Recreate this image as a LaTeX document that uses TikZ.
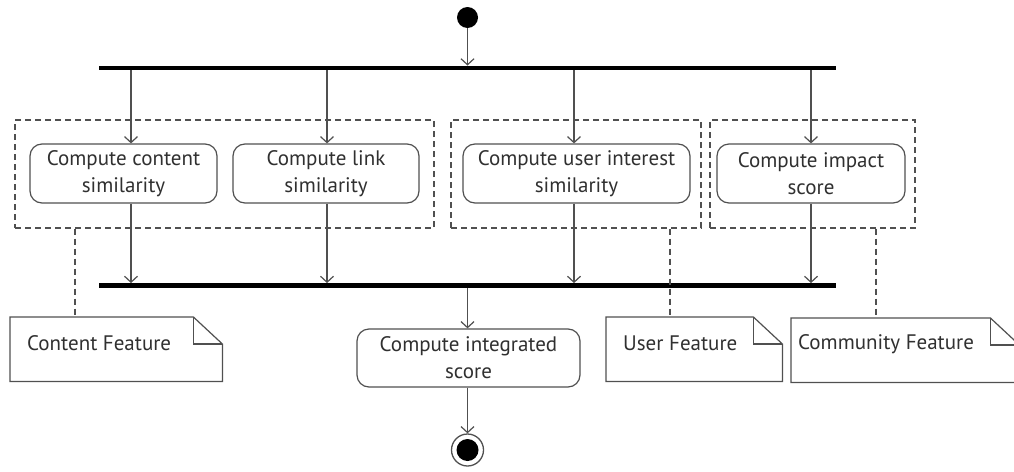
\documentclass[tikz,border=0pt]{standalone}
\usepackage{fontspec}
\setmainfont{PT Sans}
\usetikzlibrary{arrows.meta}
\definecolor{ln}{HTML}{505050}
\definecolor{tx}{HTML}{303030}
\tikzset{
  act/.style={draw=ln, line width=1.2pt, rounded corners=12pt, align=center, text=tx,
    font=\fontsize{21}{27}\selectfont, inner sep=0pt},
  bar/.style={fill=black, draw=none, inner sep=0pt, minimum height=4.5pt},
  grp/.style={draw=ln, line width=1.1pt, dash pattern=on 6pt off 4pt, inner sep=0pt},
  flow/.style={draw=ln, line width=1.2pt, -{Straight Barb[length=6pt,width=13pt,line width=1.2pt]}},
  anch/.style={draw=ln, line width=1.1pt, dash pattern=on 6pt off 4pt},
  notebox/.style={draw=none, inner sep=0pt},
  notetext/.style={text=tx, font=\fontsize{21}{25}\selectfont, inner sep=0pt, anchor=west},
  noteline/.style={draw=ln, line width=1.2pt},
}
\newcommand{\dogear}[1]{%
  \draw[noteline] (#1.north west) -- ([xshift=-29pt]#1.north east) -- ([yshift=-27pt]#1.north east) -- (#1.south east) -- (#1.south west) -- cycle;
  \draw[noteline] ([xshift=-29pt]#1.north east) -- ([xshift=-29pt,yshift=-27pt]#1.north east) -- ([yshift=-27pt]#1.north east);
}
\begin{document}
\begin{tikzpicture}[x=1pt,y=-1pt]
\clip (0,0) rectangle (1014,471);
\fill[white] (0,0) rectangle (1014,471);
% start / end
\node[circle, fill=black, minimum size=21pt, inner sep=0pt] (start) at (467.5,17.5) {};
\node[bar, minimum width=737pt] (fork) at (467.5,68) {};
\node[bar, minimum width=737pt] (join) at (467.5,285.5) {};
% groups
\node[grp, minimum width=419pt, minimum height=108pt] (g1) at (224.5,174) {};
\node[grp, minimum width=250pt, minimum height=108pt] (g2) at (576,174) {};
\node[grp, minimum width=205pt, minimum height=108pt] (g3) at (812.5,174) {};
% activities
\node[act, minimum width=187pt, minimum height=59pt] (b1) at (123.5,173.5) {Compute content\\similarity};
\node[act, minimum width=186pt, minimum height=59pt] (b2) at (326,173.5) {Compute link\\similarity};
\node[act, minimum width=227pt, minimum height=59pt] (b3) at (576.5,173.5) {Compute user interest\\similarity};
\node[act, minimum width=188pt, minimum height=59pt] (b4) at (811,173.5) {Compute impact\\score};
\node[act, minimum width=223pt, minimum height=58pt] (b5) at (468.5,358) {Compute integrated\\score};
% end
\node[circle, draw=ln, line width=1.3pt, minimum size=32pt, inner sep=0pt] (end) at (467.5,450) {};
\node[circle, fill=black, minimum size=22pt, inner sep=0pt] (endc) at (end.center) {};
% flow x positions
\coordinate (x1) at (131,0);
\coordinate (x2) at (327,0);
\coordinate (x3) at (574,0);
\coordinate (x4) at (811,0);
\coordinate (x5) at (467.5,0);
\draw[flow] (start) -- (fork.north -| x5);
\foreach \i/\b in {1/b1,2/b2,3/b3,4/b4}{
  \draw[flow] (fork.south -| x\i) -- (\b.north -| x\i);
  \draw[flow] (\b.south -| x\i) -- (join.north -| x\i);
}
\draw[flow] (join.south -| x5) -- (b5.north -| x5);
\draw[flow] (b5.south -| x5) -- (end.north);
% notes
\node[notebox, minimum width=212pt, minimum height=64pt, anchor=north west] (n1) at (10,317) {};
\node[notebox, minimum width=176pt, minimum height=64pt, anchor=north west] (n2) at (606,317) {};
\node[notebox, minimum width=228pt, minimum height=64pt, anchor=north west] (n3) at (791,318) {};
\dogear{n1}
\dogear{n2}
\dogear{n3}
\node[notetext] (t1) at (27,343) {Content Feature};
\node[notetext] (t2) at (623,343) {User Feature};
\node[notetext] (t3) at (798,344) {Community Feature};
% anchors
\coordinate (a1) at (75,0);
\coordinate (a2) at (670,0);
\coordinate (a3) at (876,0);
\draw[anch] (g1.south -| a1) -- (n1.north -| a1);
\draw[anch] (g2.south -| a2) -- (n2.north -| a2);
\draw[anch] (g3.south -| a3) -- (n3.north -| a3);
\end{tikzpicture}
\end{document}
